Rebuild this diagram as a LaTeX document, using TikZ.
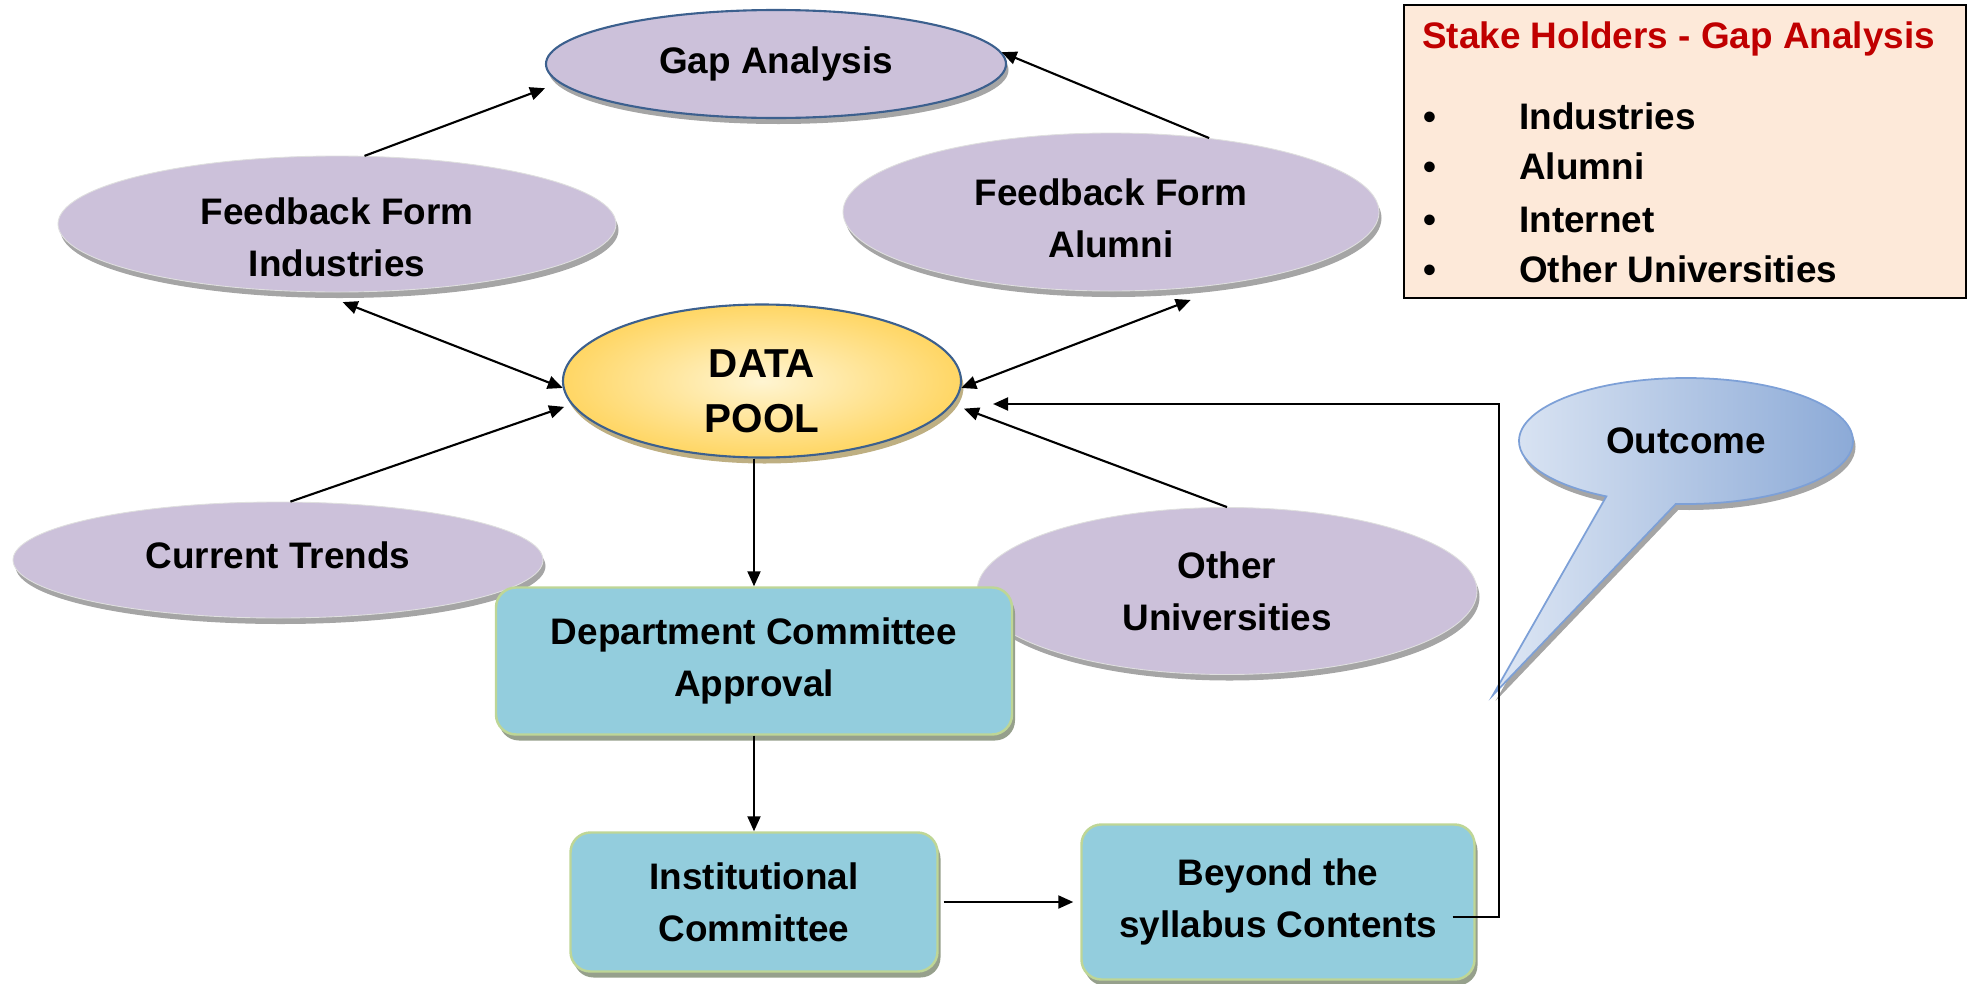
\documentclass[tikz,border=0pt]{standalone}
\usepackage{fontspec}
\setmainfont{Liberation Sans}
\usepackage{xcolor}
\usetikzlibrary{
    arrows.meta,
    shapes.geometric,
    shapes.callouts,
    shadows,
    calc,
    positioning
}
\definecolor{lavender}{RGB}{204,193,218}
\definecolor{gapblue}{RGB}{60,96,142}
\definecolor{boxcyan}{RGB}{147,205,221}
\definecolor{boxgreen}{RGB}{190,214,150}
\definecolor{boxshade}{RGB}{150,160,140}
\definecolor{peach}{RGB}{253,233,217}
\definecolor{stakered}{RGB}{192,0,0}
\definecolor{poolgold}{RGB}{255,214,100}
\definecolor{poollight}{RGB}{255,245,210}
\definecolor{poolshade}{RGB}{190,175,130}
\definecolor{callblue}{RGB}{140,170,215}
\definecolor{calllight}{RGB}{222,231,244}
\definecolor{callborder}{RGB}{125,160,215}
\definecolor{shadowgray}{RGB}{165,165,165}

\begin{document}
\begin{tikzpicture}[x=0.2mm, y=-0.2mm,
    >={Triangle[length=3mm, width=2.6mm]},
    every node/.style={font=\fontsize{21}{29.5}\selectfont\bfseries},
    oval/.style={ellipse, fill=lavender, draw=gray!25, line width=0.5pt,
        inner sep=0pt, align=center,
        drop shadow={shadow xshift=0.5mm, shadow yshift=-1.2mm, fill=shadowgray, opacity=1}},
    stepbox/.style={rectangle, rounded corners=4mm, fill=boxcyan, draw=boxgreen,
        line width=1.4pt, inner sep=0pt, align=center,
        drop shadow={shadow xshift=0.6mm, shadow yshift=-1.2mm, fill=boxshade, opacity=1}},
    link/.style={line width=1.2pt}
]
    \useasboundingbox (0,0) rectangle (1972,984);

    % stakeholder ovals
    \node[oval, draw=gapblue, line width=1.2pt, minimum width=92mm, minimum height=21.6mm] (gap) at (776, 64) {Gap Analysis};
    \node[oval, text height=60pt, inner ysep=-5pt, minimum width=111.6mm, minimum height=27.2mm] (ffind) at (337, 224) {Feedback Form\\Industries};
    \node[oval, text height=52pt, minimum width=107.2mm, minimum height=31.6mm] (ffalu) at (1111, 212) {Feedback Form\\Alumni};
    \node[oval, text depth=6pt, minimum width=106mm, minimum height=23.2mm] (trends) at (278, 560) {Current Trends};
    \node[oval, minimum width=100mm, minimum height=33.4mm] (otheru) at (1227, 591) {Other\\Universities};
    \node[ellipse, draw=gapblue, line width=1.2pt, inner color=poollight, outer color=poolgold,
        inner sep=0pt, align=center, minimum width=79.6mm, minimum height=30.6mm, text height=59pt,
        drop shadow={shadow xshift=0.5mm, shadow yshift=-1.2mm, fill=poolshade, opacity=1},
        font=\fontsize{23}{31.5}\selectfont\bfseries] (pool) at (762, 381) {DATA\\POOL};

    % approval steps
    \node[stepbox, minimum width=103.2mm, minimum height=29.4mm] (dept) at (754, 661) {Department Committee\\Approval};
    \node[stepbox, minimum width=73.4mm, minimum height=27.8mm] (inst) at (754, 902) {Institutional\\Committee};
    \node[stepbox, minimum width=78.6mm, minimum height=31mm] (beyond) at (1278, 902) {Beyond the\\syllabus Contents};

    % legend box
    \node[draw=black, fill=peach, line width=1.2pt, inner sep=0pt,
        minimum width=112.4mm, minimum height=58.6mm] (stake) at (1685, 151.5) {};
    \node[anchor=base west, text=stakered] (staketitle) at (1416, 48) {Stake Holders - Gap Analysis};
    \node[anchor=base] (b1) at (1430, 129) {\textbullet};
    \node[anchor=base west] (s1) at (1513, 129) {Industries};
    \node[anchor=base] (b2) at (1430, 179) {\textbullet};
    \node[anchor=base west] (s2) at (1513, 179) {Alumni};
    \node[anchor=base] (b3) at (1430, 232) {\textbullet};
    \node[anchor=base west] (s3) at (1513, 232) {Internet};
    \node[anchor=base] (b4) at (1430, 282) {\textbullet};
    \node[anchor=base west] (s4) at (1513, 282) {Other Universities};

    % callout
    \coordinate (outtip) at (1493, 695);
    \node[ellipse callout, callout absolute pointer={(outtip)}, callout pointer arc=25,
        draw=callborder, line width=1pt, left color=calllight, right color=callblue,
        inner sep=0pt, minimum width=66.8mm, minimum height=25.2mm,
        drop shadow={shadow xshift=0.5mm, shadow yshift=-1.2mm, fill=shadowgray, opacity=1}] (outcome) at (1686, 441) {Outcome};

    \draw[link]
    (ffind.68) edge[->, shorten >=3mm] (gap.185)
    (ffalu.37) edge[->] (gap.3)
    (ffind.254) edge[<->, shorten <=5.4mm] (pool.182)
    (pool.-2) edge[<->, shorten >=10mm] (ffalu.-29)
    (trends.78) edge[->, shorten >=1.5mm] (pool.187)
    (otheru.north) edge[->, shorten >=2.4mm] (pool.-7)
    (pool.south -| dept.north) edge[->] (dept.north)
    (dept.south) edge[->] (inst.north)
    (inst.east) edge[->, shorten <=1mm, shorten >=1.4mm] (beyond.west);
    \draw[link, ->] ([xshift=-4.6mm, yshift=-3mm]beyond.east) -- ++(9.2mm, 0) |- ([xshift=6.2mm, yshift=-4.6mm]pool.east);
\end{tikzpicture}
\end{document}
